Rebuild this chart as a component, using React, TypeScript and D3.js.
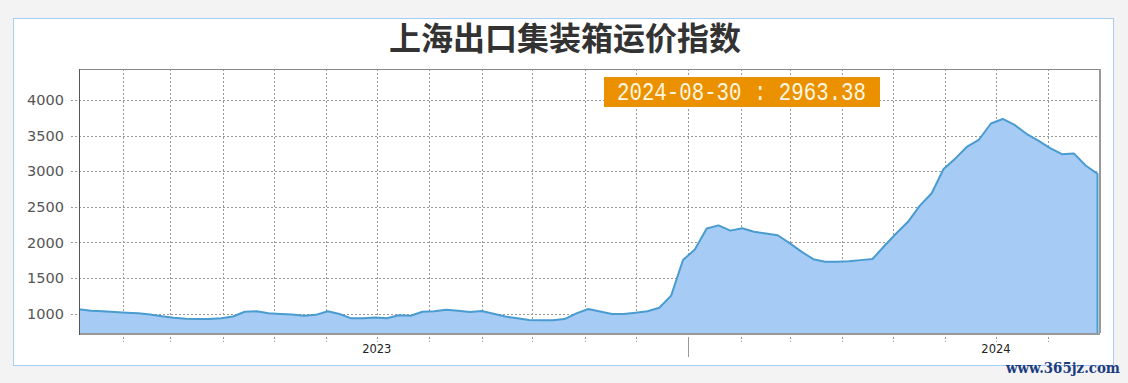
import React from "react";
import * as d3 from "d3";

const title = "上海出口集装箱运价指数";
const annotation = "2024-08-30 : 2963.38";
const watermark = "www.365jz.com";

const dates: string[] = [
  "2023-01-06","2023-01-13","2023-01-20","2023-01-27",
  "2023-02-03","2023-02-10","2023-02-17","2023-02-24",
  "2023-03-03","2023-03-10","2023-03-17","2023-03-24","2023-03-31",
  "2023-04-07","2023-04-14","2023-04-21","2023-04-28",
  "2023-05-05","2023-05-12","2023-05-19","2023-05-26",
  "2023-06-02","2023-06-09","2023-06-16","2023-06-23","2023-06-30",
  "2023-07-07","2023-07-14","2023-07-21","2023-07-28",
  "2023-08-04","2023-08-11","2023-08-18","2023-08-25",
  "2023-09-01","2023-09-08","2023-09-15","2023-09-22","2023-09-29",
  "2023-10-06","2023-10-13","2023-10-20","2023-10-27",
  "2023-11-03","2023-11-10","2023-11-17","2023-11-24",
  "2023-12-01","2023-12-08","2023-12-15","2023-12-22","2023-12-29",
  "2024-01-05","2024-01-12","2024-01-19","2024-01-26",
  "2024-02-02","2024-02-09","2024-02-16","2024-02-23",
  "2024-03-01","2024-03-08","2024-03-15","2024-03-22","2024-03-29",
  "2024-04-05","2024-04-12","2024-04-19","2024-04-26",
  "2024-05-03","2024-05-10","2024-05-17","2024-05-24","2024-05-31",
  "2024-06-07","2024-06-14","2024-06-21","2024-06-28",
  "2024-07-05","2024-07-12","2024-07-19","2024-07-26",
  "2024-08-02","2024-08-09","2024-08-16","2024-08-23","2024-08-30",
];

const values: number[] = [
  1061, 1042, 1035, 1025, 1015, 1005, 990, 965, 944, 930,
  927, 926, 935, 960, 1028, 1033, 1005, 995, 988, 972,
  984, 1035, 995, 935, 935, 948, 935, 977, 972, 1028,
  1033, 1054, 1042, 1025, 1038, 1000, 960, 935, 912, 907,
  907, 925, 1005, 1066, 1030, 996, 996, 1014, 1035, 1084,
  1254, 1754, 1900, 2195, 2240, 2166, 2199, 2150, 2125, 2101,
  1990, 1871, 1765, 1730, 1730, 1735, 1752, 1768, 1950, 2125,
  2290, 2517, 2690, 3032, 3180, 3346, 3445, 3670, 3733.8, 3650,
  3525, 3430, 3325, 3240, 3250, 3080, 2963.38,
];

const yTicks = [1000, 1500, 2000, 2500, 3000, 3500, 4000];
const yDomain = [729, 4435];
const yearLabels = [
  { label: "2023", date: "2023-07-01" },
  { label: "2024", date: "2024-07-01" },
];
const yearBoundaries = ["2024-01-01"];
const monthStart = "2023-02-01";
const monthEnd = "2024-09-01";

export default function App() {
  const W = 1128, H = 383;
  const left = 79, right = 1100, top = 69, bottom = 333;
  const parse = d3.timeParse("%Y-%m-%d");
  const data = dates.map((d, i) => ({ date: parse(d) as Date, value: values[i] }));

  const x = d3.scaleTime()
    .domain([data[0].date, data[data.length - 1].date])
    .range([left, 1097.5]);
  const y = d3.scaleLinear().domain(yDomain).range([bottom, top]);

  const months = d3.timeMonth.range(parse(monthStart) as Date, parse(monthEnd) as Date);
  const boundarySet = new Set(yearBoundaries);
  const fmt = d3.timeFormat("%Y-%m-%d");

  const area = d3.area<any>().x(d => x(d.date)).y0(bottom).y1(d => y(d.value));
  const line = d3.line<any>().x(d => x(d.date)).y(d => y(d.value));
  const last = data[data.length - 1];
  const linePath = (line(data) || "") + `L${x(last.date)},${bottom}`;

  return (
    <div style={{ position: "absolute", left: 0, top: 0 }}>
      <svg width={W} height={H} style={{ display: "block" }}>
        <rect x={0} y={0} width={W} height={H} fill="#f3f3f3" />
        <rect x={13.5} y={18.5} width={1100} height={347} fill="#ffffff" stroke="#a8cdf2" strokeWidth={1} />
        <text x={565} y={50} textAnchor="middle" fontFamily="'Noto Sans CJK SC', sans-serif" fontWeight="bold" fontSize={32} fill="#333">{title}</text>

        {/* grid */}
        {yTicks.map(t => (
          <line key={"h" + t} x1={71} x2={right} y1={Math.round(y(t)) + 0.5} y2={Math.round(y(t)) + 0.5} stroke="#999" strokeDasharray="2,2" />
        ))}
        {months.map(m => {
          const xx = Math.round(x(m)) + 0.5;
          const isB = boundarySet.has(fmt(m));
          return (
            <g key={"v" + fmt(m)}>
              <line x1={xx} x2={xx} y1={top} y2={bottom} stroke="#999" strokeDasharray="2,2" />
              <line x1={xx} x2={xx} y1={bottom + 4} y2={isB ? 357 : 342} stroke="#999" strokeDasharray={isB ? "none" : "2,2"} />
            </g>
          );
        })}

        {/* area */}
        <path d={area(data) || ""} fill="#a6cbf5" />
        <path d={linePath} fill="none" stroke="#4a9cd0" strokeWidth={2} strokeLinejoin="round" />

        {/* frame */}
        <line x1={left} x2={right} y1={top + 0.5} y2={top + 0.5} stroke="#888" />
        <line x1={right} x2={right} y1={top} y2={bottom} stroke="#999" strokeWidth={2} />
        <line x1={left} x2={right} y1={bottom + 1} y2={bottom + 1} stroke="#999" strokeWidth={2} />
        <line x1={left + 0.5} x2={left + 0.5} y1={top} y2={bottom + 2} stroke="#555" />

        {yTicks.map(t => (
          <text key={"yl" + t} x={64} y={y(t)} dy="0.35em" textAnchor="end" fontFamily="'DejaVu Sans', sans-serif" fontSize={14.5} fill="#555">{t}</text>
        ))}
        {yearLabels.map(l => (
          <text key={l.label} x={x(parse(l.date) as Date)} y={353} textAnchor="middle" fontFamily="'DejaVu Sans', sans-serif" fontSize={11.5} fill="#222">{l.label}</text>
        ))}

        {/* annotation */}
        <rect x={604} y={77} width={276} height={30} fill="#eb9100" />
        <text x={617} y={100} fontFamily="'Liberation Mono', monospace" fontSize={25} fill="#fff6e0" textLength={249} lengthAdjust="spacingAndGlyphs">{annotation}</text>

        <text x={1120} y={373} textAnchor="end" fontFamily="'DejaVu Serif', serif" fontWeight="bold" fontSize={15} fill="#1c3c80" textLength={114} lengthAdjust="spacingAndGlyphs">{watermark}</text>
      </svg>
    </div>
  );
}
